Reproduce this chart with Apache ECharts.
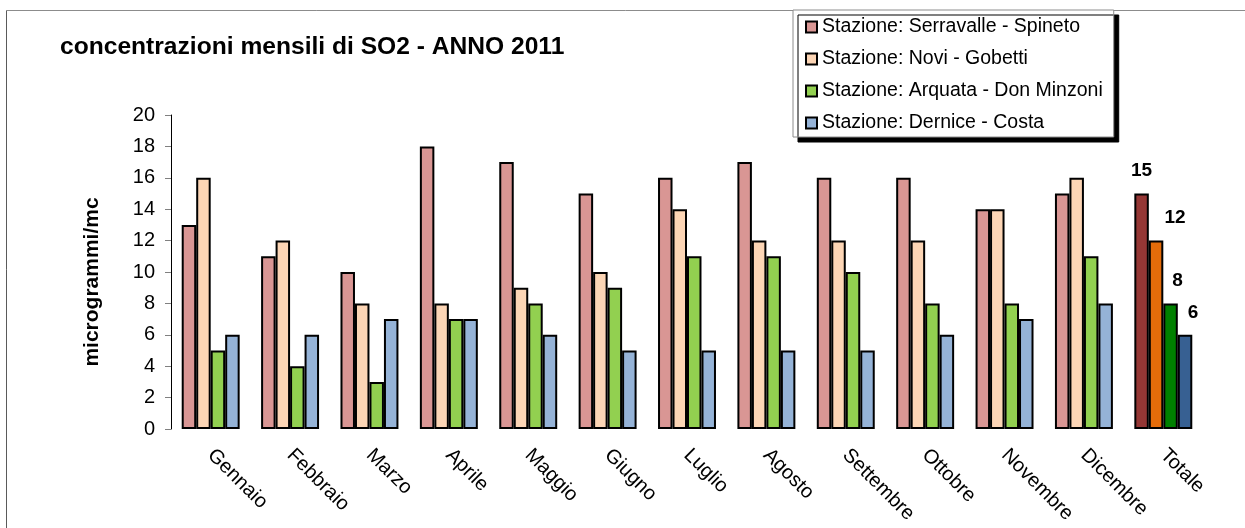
<!DOCTYPE html>
<html>
<head>
<meta charset="utf-8">
<script src="https://cdn.jsdelivr.net/npm/echarts@6/dist/echarts.min.js"></script>
<style>
  html, body { margin: 0; padding: 0; background: #ffffff; }
  #chart { width: 1245px; height: 528px; }
</style>
</head>
<body>
<div id="chart"></div>
<script>
// Monthly SO2 concentrations per station, year 2011 (µg/m³)
const categories = ['Gennaio', 'Febbraio', 'Marzo', 'Aprile', 'Maggio', 'Giugno',
  'Luglio', 'Agosto', 'Settembre', 'Ottobre', 'Novembre', 'Dicembre', 'Totale'];

const stationNames = [
  'Stazione: Serravalle - Spineto',
  'Stazione: Novi - Gobetti',
  'Stazione: Arquata - Don Minzoni',
  'Stazione: Dernice - Costa'
];

const serravalle = [13, 11, 10, 18, 17, 15, 16, 17, 16, 16, 14, 15, 15];
const novi       = [16, 12, 8, 8, 9, 10, 14, 12, 12, 12, 14, 16, 12];
const arquata    = [5, 4, 3, 7, 8, 9, 11, 11, 10, 8, 8, 11, 8];
const dernice    = [6, 6, 7, 7, 6, 5, 5, 5, 5, 6, 7, 8, 6];

const yTicks = [0, 2, 4, 6, 8, 10, 12, 14, 16, 18, 20];

// monthly colours and the darker colours of the yearly total
const monthColors = ['#D99694', '#FCD5B5', '#92D050', '#95B3D7'];
const totalColors = ['#953735', '#E46C0A', '#008000', '#376092'];
const totalLabelOffsets = [[0, 0], [19, 0], [7, 0], [8, 0]];

const FONT = 'Arial, "Liberation Sans", sans-serif';

function buildSeries(values, idx) {
  return {
    name: stationNames[idx],
    type: 'bar',
    barGap: '0%',
    barCategoryGap: '27%',
    itemStyle: { color: monthColors[idx], borderColor: '#000', borderWidth: 2 },
    data: values.map(function (v, i) {
      if (i === categories.length - 1) {
        return {
          value: v,
          itemStyle: { color: totalColors[idx] },
          label: {
            show: true,
            position: 'top',
            distance: 13,
            offset: totalLabelOffsets[idx],
            fontFamily: FONT,
            fontWeight: 'bold',
            fontSize: 19,
            color: '#000'
          }
        };
      }
      return v;
    })
  };
}

const chart = echarts.init(document.getElementById('chart'), null, { renderer: 'canvas' });

chart.setOption({
  animation: false,
  backgroundColor: '#ffffff',
  title: {
    text: 'concentrazioni mensili di SO2 - ANNO 2011',
    left: 55,
    top: 30,
    textStyle: { fontFamily: FONT, fontWeight: 'bold', fontSize: 24.6, color: '#000' }
  },
  legend: {
    orient: 'vertical',
    left: 793,
    top: 10,
    padding: [7, 11, 4, 12],
    itemWidth: 11,
    itemHeight: 11,
    itemGap: 12,
    icon: 'rect',
    backgroundColor: '#ffffff',
    borderColor: '#8c8c8c',
    borderWidth: 1,
    shadowColor: '#000',
    shadowBlur: 0,
    shadowOffsetX: 5,
    shadowOffsetY: 5,
    textStyle: { fontFamily: FONT, fontSize: 19.5, color: '#000', lineHeight: 20 },
    data: stationNames
  },
  grid: { left: 171, right: 42, top: 115, bottom: 99, containLabel: false },
  xAxis: {
    type: 'category',
    data: categories,
    axisLine: { show: false },
    axisTick: { show: false },
    axisLabel: {
      interval: 0,
      rotate: -45,
      margin: 23,
      fontFamily: FONT,
      fontSize: 20,
      color: '#000'
    }
  },
  yAxis: {
    type: 'value',
    min: yTicks[0],
    max: yTicks[yTicks.length - 1],
    interval: 2,
    name: 'microgrammi/mc',
    nameLocation: 'middle',
    nameGap: 68,
    nameTextStyle: { fontFamily: FONT, fontWeight: 'bold', fontSize: 21, color: '#000', padding: [0, 20, 0, 0] },
    axisLine: { show: true, lineStyle: { color: '#000', width: 1 } },
    axisTick: { show: true, length: 6, lineStyle: { color: '#808080' } },
    splitLine: { show: false },
    axisLabel: { margin: 16, fontFamily: FONT, fontSize: 20, color: '#000' }
  },
  graphic: [
    { type: 'line', silent: true, shape: { x1: 6.5, y1: 10.5, x2: 1245, y2: 10.5 },
      style: { stroke: '#8c8c8c', lineWidth: 1 } },
    { type: 'line', silent: true, shape: { x1: 6.5, y1: 10.5, x2: 6.5, y2: 528 },
      style: { stroke: '#5a5a5a', lineWidth: 1 } }
  ],
  series: [
    buildSeries(serravalle, 0),
    buildSeries(novi, 1),
    buildSeries(arquata, 2),
    buildSeries(dernice, 3)
  ]
});
</script>
</body>
</html>
